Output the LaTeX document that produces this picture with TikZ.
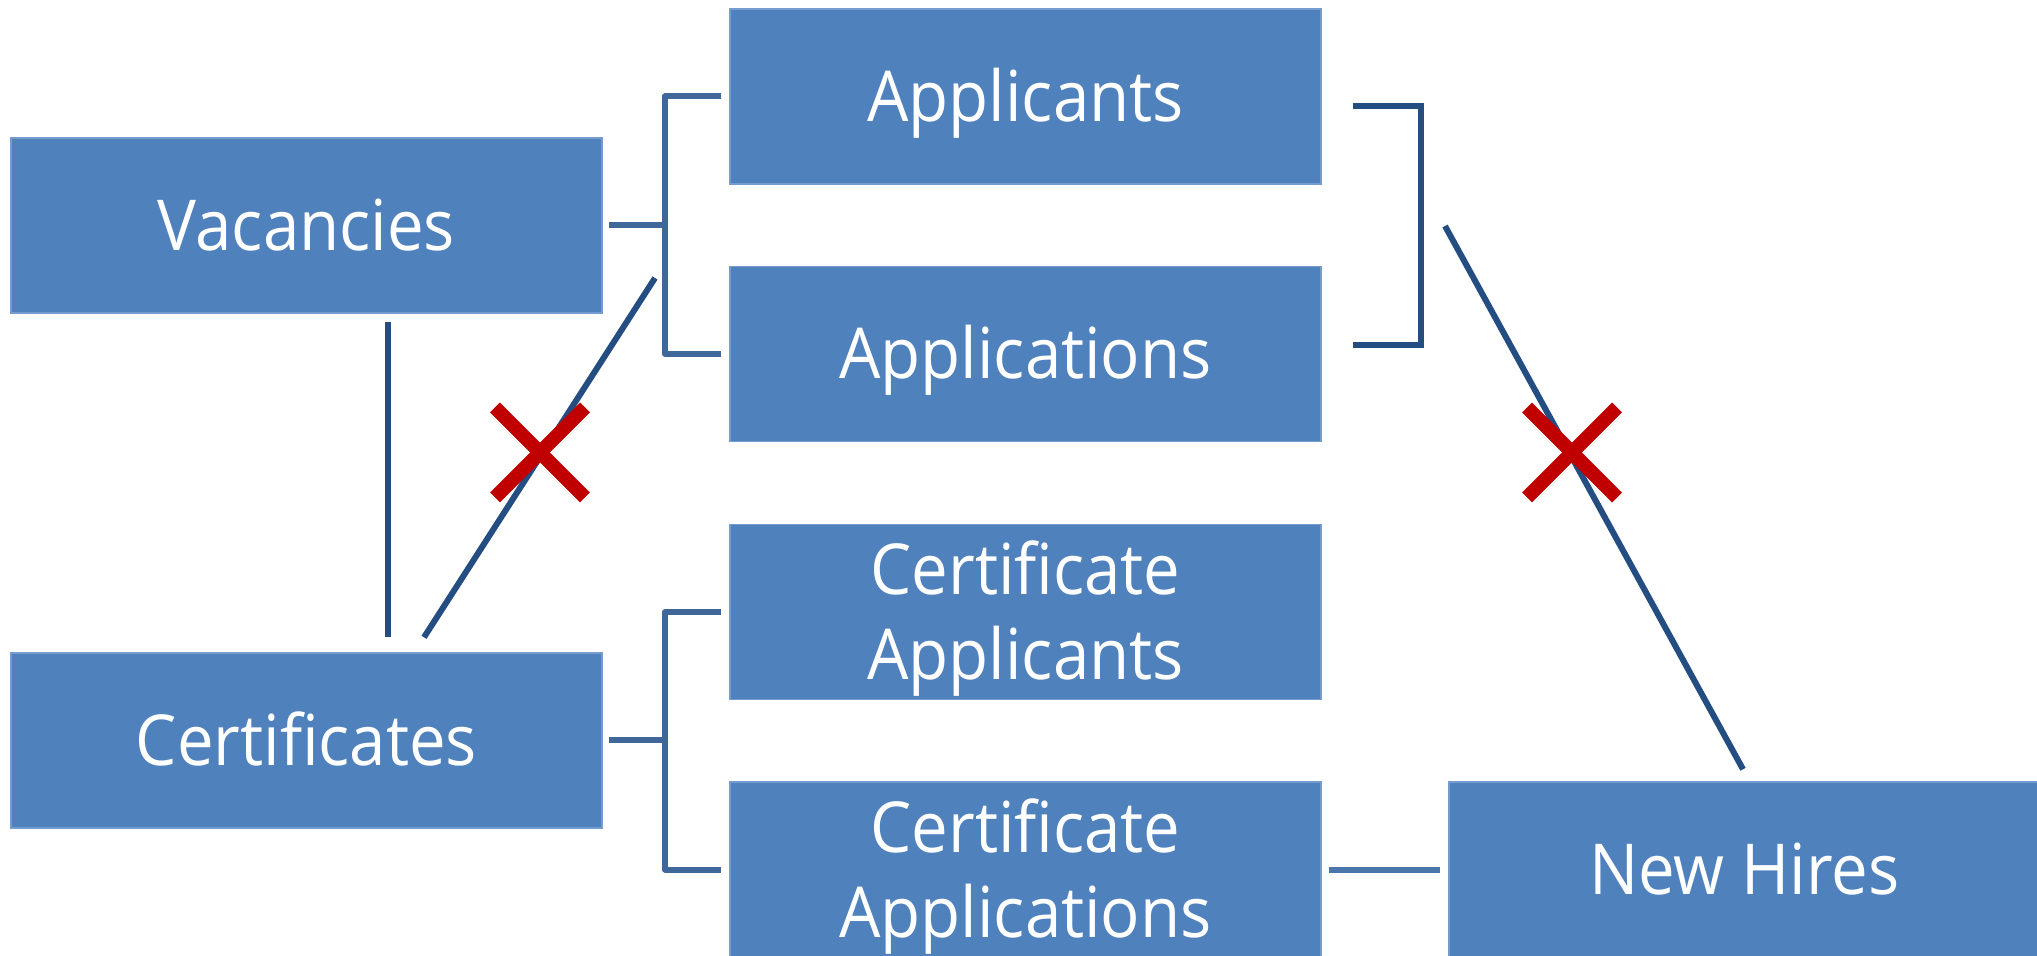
\documentclass[tikz,border=0pt]{standalone}
\usepackage{fontspec}
\newfontfamily\boxfont{Open Sans}[FakeStretch=0.93]
\definecolor{boxblue}{RGB}{79,129,189}
\definecolor{boxedge}{RGB}{116,156,206}
\definecolor{brkblue}{RGB}{63,103,154}
\definecolor{dkblue}{RGB}{36,77,129}
\definecolor{ltblue}{RGB}{74,118,172}
\definecolor{xred}{RGB}{192,0,0}
\newcommand\twolines[2]{\vtop{\baselineskip=0.85cm\halign{\hfil##\hfil\cr#1\cr#2\cr}}}
\begin{document}
\begin{tikzpicture}[
  box/.style={rectangle, fill=boxblue, draw=boxedge, line width=0.4pt,
    minimum width=5.91cm, minimum height=1.75cm, inner sep=0pt,
    text=white, font=\boxfont\fontsize{20pt}{24.2pt}\selectfont,
    text height=0.5cm, text depth=0cm},
  twoline/.style={text depth=0.85cm},
  brk/.style={draw=brkblue, line width=0.06cm},
  dk/.style={draw=dkblue, line width=0.06cm},
  lt/.style={draw=ltblue, line width=0.06cm},
  redx/.style={draw=xred, line width=0.14cm}
]
\useasboundingbox (0,0) rectangle (20.37,-9.56);

% boxes
\node[box] (vac)  at (3.065,-2.255) {Vacancies};
\node[box] (cert) at (3.065,-7.405) {Certificates};
\node[box] (app)  at (10.255,-0.965) {Applicants};
\node[box] (apl)  at (10.255,-3.54) {Applications};
\node[box,twoline] (capp) at (10.255,-6.12) {\twolines{Certificate}{Applicants}};
\node[box,twoline] (capl) at (10.255,-8.695) {\twolines{Certificate}{Applications}};
\node[box] (nh)   at (17.445,-8.695) {New Hires};

% left brackets
\coordinate (j1) at (6.65,-2.255);
\draw[brk] ([xshift=0.06cm]vac.east) -- (j1);
\draw[brk, line join=round] ([xshift=-0.08cm]app.west) -| (j1) |- ([xshift=-0.08cm]apl.west);

\coordinate (j2) at (6.65,-7.405);
\draw[brk] ([xshift=0.06cm]cert.east) -- (j2);
\draw[brk, line join=round] ([xshift=-0.08cm]capp.west) -| (j2) |- ([xshift=-0.08cm]capl.west);

% right bracket
\draw[dk, line join=miter] ([shift={(0.31,-0.095)}]app.east) -- ++(0.68,0) |- ([shift={(0.31,0.09)}]apl.east);

% vacancies - certificates
\draw[dk] ([shift={(0.815,-0.08)}]vac.south) -- ([shift={(0.815,0.15)}]cert.north);

% crossed diagonals
\coordinate (d1) at (6.55,-2.78);
\draw[dk] ([shift={(1.175,0.15)}]cert.north) -- (d1);
\coordinate (d2) at (14.45,-2.26);
\draw[dk] (d2) -- ([shift={(-0.015,0.12)}]nh.north);

% certificate applications - new hires
\draw[lt] ([xshift=0.07cm]capl.east) -- ([xshift=-0.08cm]nh.west);

% red crosses
\coordinate (x1) at (5.40,-4.525);
\coordinate (x2) at (15.72,-4.525);
\foreach \c in {x1,x2}{
  \draw[redx] ([shift={(-0.45,0.45)}]\c) -- ([shift={(0.45,-0.45)}]\c);
  \draw[redx] ([shift={(-0.45,-0.45)}]\c) -- ([shift={(0.45,0.45)}]\c);
}
\end{tikzpicture}
\end{document}
